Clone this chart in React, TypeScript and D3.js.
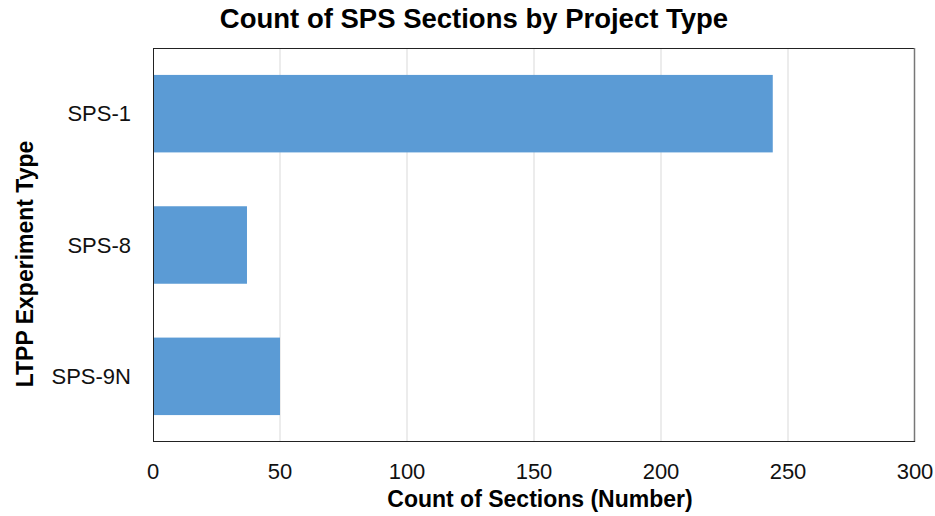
import React, { useEffect, useRef } from 'react';
import * as d3 from 'd3';

const categories = ['SPS-1', 'SPS-8', 'SPS-9N'];
const counts = [244, 37, 50];
const xTicks = [0, 50, 100, 150, 200, 250, 300];

const App = () => {
  const svgRef = useRef<SVGSVGElement>(null);

  useEffect(() => {
    const svg = d3.select(svgRef.current);
    svg.selectAll('*').remove();

    const width = 935;
    const height = 516;
    const margin = { top: 48, right: 20, bottom: 74, left: 153 };
    const innerWidth = 915 - margin.left;
    const innerHeight = height - margin.top - margin.bottom;
    const font = '"Liberation Sans", Arial, sans-serif';

    svg.attr('width', width).attr('height', height).style('font-family', font);

    const x = d3.scaleLinear().domain([0, 300]).range([0, innerWidth]);
    const y = d3.scaleBand().domain(categories).range([0, innerHeight]).paddingInner(0.41).paddingOuter(0.205);

    const g = svg.append('g').attr('transform', `translate(${margin.left},${margin.top})`);

    // gridlines
    g.selectAll('.grid')
      .data(xTicks.filter(t => t > 0 && t < 300))
      .enter()
      .append('line')
      .attr('x1', d => x(d))
      .attr('x2', d => x(d))
      .attr('y1', 0)
      .attr('y2', innerHeight)
      .attr('stroke', '#d9d9d9')
      .attr('stroke-width', 1);

    // bars
    g.selectAll('.bar')
      .data(categories)
      .enter()
      .append('rect')
      .attr('x', 0)
      .attr('y', d => y(d)!)
      .attr('width', (d, i) => x(counts[i]))
      .attr('height', y.bandwidth())
      .attr('fill', '#5b9bd5');

    // frame
    g.append('line').attr('x1', 0).attr('x2', innerWidth).attr('y1', 0.5).attr('y2', 0.5).attr('stroke', '#222');
    g.append('line').attr('x1', innerWidth - 0.5).attr('x2', innerWidth - 0.5).attr('y1', 0).attr('y2', innerHeight).attr('stroke', '#777').attr('stroke-width', 1.5);
    g.append('line').attr('x1', 0.5).attr('x2', 0.5).attr('y1', 0).attr('y2', innerHeight).attr('stroke', '#222');
    g.append('line').attr('x1', 0).attr('x2', innerWidth).attr('y1', innerHeight - 0.5).attr('y2', innerHeight - 0.5).attr('stroke', '#222');

    // x tick labels
    g.selectAll('.xtick')
      .data(xTicks)
      .enter()
      .append('text')
      .attr('x', d => x(d))
      .attr('y', innerHeight + 37)
      .attr('text-anchor', 'middle')
      .attr('font-size', 22)
      .attr('fill', '#111')
      .text(d => d);

    // y tick labels
    g.selectAll('.ytick')
      .data(categories)
      .enter()
      .append('text')
      .attr('x', -22)
      .attr('y', d => y(d)! + y.bandwidth() / 2)
      .attr('dy', '0.35em')
      .attr('text-anchor', 'end')
      .attr('font-size', 22)
      .attr('fill', '#111')
      .text(d => d);

    // title
    svg.append('text')
      .attr('x', 474)
      .attr('y', 28)
      .attr('text-anchor', 'middle')
      .attr('font-size', 27.5)
      .attr('font-weight', 'bold')
      .text('Count of SPS Sections by Project Type');

    // axis titles
    svg.append('text')
      .attr('x', 540)
      .attr('y', 507)
      .attr('text-anchor', 'middle')
      .attr('font-size', 23)
      .attr('font-weight', 'bold')
      .text('Count of Sections (Number)');

    svg.append('text')
      .attr('transform', 'rotate(-90)')
      .attr('x', -264)
      .attr('y', 33)
      .attr('text-anchor', 'middle')
      .attr('font-size', 23)
      .attr('font-weight', 'bold')
      .text('LTPP Experiment Type');
  }, []);

  return <svg ref={svgRef} style={{ position: 'absolute', left: 0, top: 0 }}></svg>;
};

export default App;
